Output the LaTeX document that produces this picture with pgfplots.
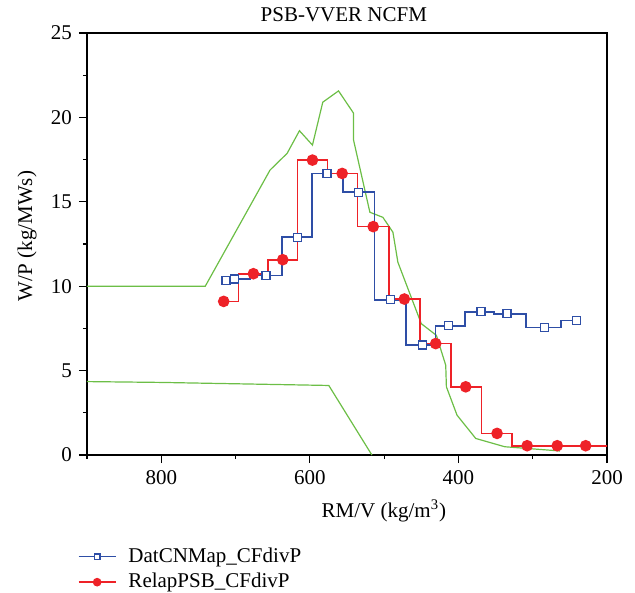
\documentclass[border=0pt]{standalone}
\usepackage{fontspec}
\setmainfont{Liberation Serif}
\usepackage{pgfplots}
\pgfplotsset{compat=1.18}
\definecolor{cblue}{RGB}{46,78,166}
\definecolor{cred}{RGB}{238,34,40}
\definecolor{cgreen}{RGB}{108,190,70}
\pgfplotstableread{
x y
712.9 10.34
701.7 10.42
659.0 10.64
616.3 12.90
577.2 16.68
534.5 15.56
491.7 9.20
448.6 6.52
413.1 7.66
369.5 8.49
334.4 8.37
284.0 7.56
240.8 7.96
}\blued
\pgfplotstableread{
x y
716.0 9.10
676.0 10.74
636.5 11.57
596.5 17.47
556.5 16.68
514.7 13.53
472.8 9.24
430.6 6.60
390.2 4.04
348.0 1.28
307.5 0.55
267.0 0.55
228.7 0.55
}\redd
\pgfplotstableread{
x y
716.0 9.10
676.0 10.74
636.5 11.57
596.5 17.47
556.5 16.68
514.7 13.53
472.8 9.24
430.6 6.60
390.2 4.04
348.0 1.28
307.5 0.55
267.0 0.55
228.7 0.55
188.0 0.55
}\reddext
\pgfplotstableread{
x y
900 10.0
740.8 10.0
653.6 16.88
630.6 17.87
614.0 19.21
596.5 18.36
582.6 20.90
561.4 21.57
541.2 20.25
541.2 18.66
519.2 14.38
501.7 14.08
488.2 13.20
481.5 11.42
450.0 7.78
429.7 7.09
417.1 5.32
416.2 4.04
401.9 2.36
376.7 0.98
337.6 0.49
263.4 0.24
}\greenup
\pgfplotstableread{
x y
900 4.35
800 4.30
574.5 4.12
516.5 0.00
}\greenlow
\begin{document}
\begin{tikzpicture}
\begin{axis}[name=ax, scale only axis, width=260pt, height=211pt,
  x dir=reverse, xmin=200, xmax=900, ymin=0, ymax=25,
  xtick={800,600,400,200}, minor xtick={900,700,500,300},
  ytick={0,5,...,25}, minor ytick={2.5,7.5,...,22.5},
  tick align=outside, tick pos=left,
  major tick length=4pt, minor tick length=2pt,
  axis line style={line width=0.75pt},
  every tick/.style={black, line width=0.6pt},
  /pgf/number format/assume math mode=true,
  tick label style={font=\fontsize{10.5}{12}\selectfont},
  label style={font=\fontsize{10.5}{12}\selectfont},
  title={PSB-VVER NCFM},
  title style={font=\fontsize{10.5}{12}\selectfont, at={(axis description cs:0.494,1)}, anchor=center, yshift=3pt},
  xlabel={RM/V (kg/m\textsuperscript{3})},
  xlabel style={at={(axis description cs:0.571,0)}, anchor=north, yshift=-19pt},
  ylabel={W/P (kg/MWs)},
  ylabel style={at={(axis description cs:0,0.519)}, anchor=center, yshift=30pt},
  legend style={at={(-0.03,-0.2)}, anchor=north west, draw=none, fill=none,
    font=\fontsize{10.5}{12}\selectfont, row sep=0pt, column sep=4pt},
  legend cell align=left,
  legend image code/.code={\draw[mark repeat=2,mark phase=2, /tikz/every mark/.append style={scale=0.7}] plot coordinates {(0pt,0pt) (9.25pt,0pt) (18.5pt,0pt)};},
]
\addplot[cgreen, line width=0.6pt, no marks, forget plot] table {\greenup};
\addplot[cgreen, line width=0.6pt, no marks, forget plot] table {\greenlow};
\addplot[cblue, line width=0.85pt, const plot mark mid, mark=square*, mark size=2pt,
  mark options={fill=white, draw=cblue, line width=0.75pt}] table {\blued};
\addlegendentry{DatCNMap\_CFdivP}
\addplot[cred, line width=0.8pt, const plot mark mid, no marks, forget plot] table {\reddext};
\addplot[cred, line width=0.8pt, const plot mark mid, mark=*, mark size=2.5pt,
  mark options={fill=cred, draw=cred}] table {\redd};
\addlegendentry{RelapPSB\_CFdivP}
\end{axis}
\pgfresetboundingbox
\path ([xshift=-43.5pt,yshift=-68.5pt]ax.south west) rectangle ([xshift=14pt,yshift=16.5pt]ax.north east);
\end{tikzpicture}
\end{document}
